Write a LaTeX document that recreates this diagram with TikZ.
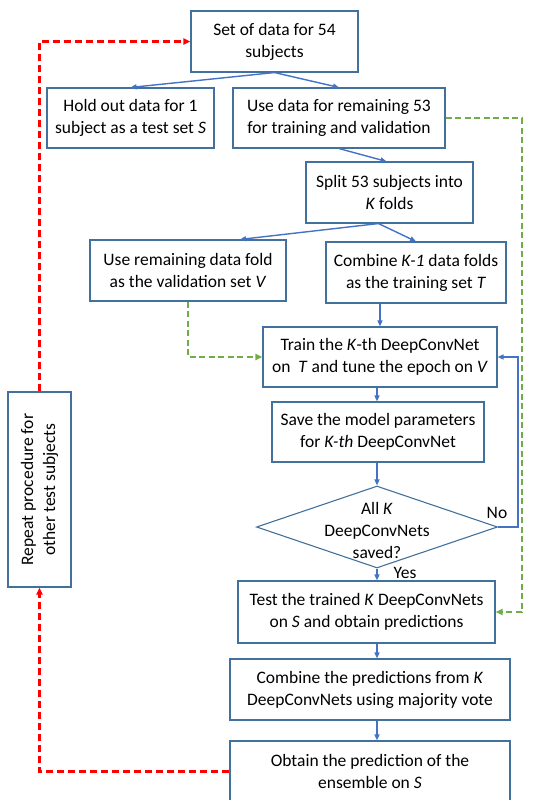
\documentclass[tikz,border=0pt]{standalone}
\usepackage{fontspec}
\setmainfont{Carlito}
\usetikzlibrary{arrows.meta,shapes.geometric}
\definecolor{boxblue}{HTML}{41719C}
\definecolor{arrowblue}{HTML}{4472C4}
\definecolor{loopred}{HTML}{FF0000}
\definecolor{linkgreen}{HTML}{70AD47}
\begin{document}
\begin{tikzpicture}[x=1pt,y=-1pt,line join=miter,
  txt/.style={inner sep=0pt,align=center,font=\fontsize{17.5}{22}\selectfont},
  box/.style={txt,draw=boxblue,line width=1.1pt},
  flow/.style={draw=arrowblue,line width=1.4pt,-{Triangle[length=6pt,width=5pt]}},
  redloop/.style={draw=loopred,line width=2.2pt,dash pattern=on 7pt off 4pt,-{Triangle[length=7pt,width=6pt]}},
  greenlink/.style={draw=linkgreen,line width=2pt,dash pattern=on 6pt off 3.5pt,-{Triangle[length=7pt,width=6pt]}}]
  \useasboundingbox (0,0) rectangle (558,800);
  \node[box,minimum width=167pt,minimum height=61pt] (all) at (274.5,41.5) {Set of data for 54\\subjects};
  \node[box,minimum width=167pt,minimum height=60pt] (hold) at (130.5,118) {Hold out data for 1\\subject as a test set \textit{S}};
  \node[box,minimum width=212pt,minimum height=60pt] (rest) at (339,118) {Use data for remaining 53\\for training and validation};
  \node[box,minimum width=167pt,minimum height=61pt] (split) at (389.5,192.5) {Split 53 subjects into\\\textit{K} folds};
  \node[box,minimum width=196pt,minimum height=61pt] (val) at (188,270.5) {Use remaining data fold\\as the validation set \textit{V}};
  \node[box,minimum width=180pt,minimum height=61pt] (trn) at (416,272.5) {Combine \textit{K-1} data folds\\as the training set \textit{T}};
  \node[box,minimum width=234pt,minimum height=60pt] (train) at (380,357) {Train the \textit{K}-th DeepConvNet\\on\ \ \textit{T} and tune the epoch on \textit{V}};
  \node[box,minimum width=212pt,minimum height=60pt] (save) at (378,432) {Save the model parameters\\for \textit{K-th} DeepConvNet};
  \node[shape=diamond,draw=boxblue,line width=1.1pt,inner sep=0pt,minimum width=241pt,minimum height=82pt] (dec) at (377,527) {};
  \node[txt] (dectext) at (377,530) {All \textit{K}\\DeepConvNets\\saved?};
  \node[box,minimum width=257pt,minimum height=62pt] (test) at (366.5,612) {Test the trained \textit{K} DeepConvNets\\on \textit{S} and obtain predictions};
  \node[box,minimum width=280pt,minimum height=61pt] (vote) at (370,689.5) {Combine the predictions from \textit{K}\\DeepConvNets using majority vote};
  \node[box,minimum width=280pt,minimum height=61pt] (ens) at (370,771.5) {Obtain the prediction of the\\ensemble on \textit{S}};
  \node[box,rotate=90,minimum width=195pt,minimum height=63pt] (rep) at (39.5,489.5) {Repeat procedure for\\other test subjects};
  \node[txt] (no) at (497,513) {No};
  \node[txt] (yes) at (405,573) {Yes};
  \coordinate (col) at (377,0);
  \draw[flow] (all.south) -- (hold.north);
  \draw[flow] (all.south) -- (rest.north);
  \draw[flow] (rest.south) -- ([xshift=-3pt]split.north);
  \draw[flow] ([xshift=-11pt]split.south) -- ([xshift=52pt]val.north);
  \draw[flow] ([xshift=-11pt]split.south) -- (trn.north);
  \draw[flow] (trn.south -| train.north) -- (train.north);
  \draw[flow] (train.south -| col) -- (save.north -| col);
  \draw[flow] (save.south -| col) -- (dec.north);
  \draw[flow] (dec.south) -- (dec.south |- test.north);
  \draw[flow] (test.south -| col) -- (vote.north -| col);
  \draw[flow] (vote.south -| col) -- (ens.north -| col);
  \draw[flow] (dec.east) -- ++(20,0) |- (train.east);
  \draw[greenlink] (rest.east) -- ++(76,0) |- (test.east);
  \draw[greenlink] (val.south) |- (train.west);
  \draw[redloop] (ens.west) -| (rep.west);
  \draw[redloop] (rep.east) |- (all.west);
\end{tikzpicture}
\end{document}
